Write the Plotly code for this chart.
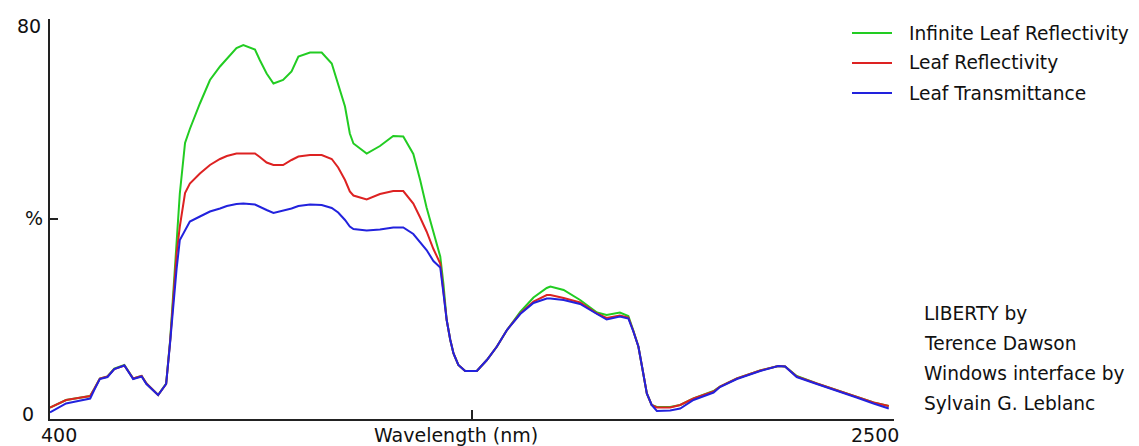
import plotly.graph_objects as go

# ---------------- data ----------------
wavelength = [400, 420, 440, 470, 500, 510, 524, 543, 560, 585, 607, 628, 640, 669, 689, 699,
              707, 715, 723, 736, 748, 773, 798, 823, 840, 864, 881, 910, 922, 939, 956, 980,
              1001, 1018, 1047, 1076, 1101, 1117, 1134, 1146, 1155, 1188, 1221, 1254, 1279,
              1304, 1321, 1337, 1354, 1371, 1379, 1387, 1396, 1404, 1416, 1433, 1462, 1487,
              1512, 1537, 1570, 1603, 1636, 1645, 1678, 1719, 1761, 1785, 1818, 1839, 1851,
              1864, 1873, 1885, 1897, 1910, 1943, 1968, 2001, 2051, 2067, 2109, 2167, 2212,
              2229, 2258, 2308, 2357, 2407, 2449, 2487]

infinite_reflectivity = [2.3, 3.0, 3.8, 4.2, 4.6, 6.0, 8.1, 8.5, 10.1, 10.8, 8.1, 8.6, 7.1, 4.8, 7.1, 15.8,
                         25.1, 34.5, 45.1, 55.2, 58.0, 63.1, 67.8, 70.5, 72.1, 74.2, 74.8, 73.9, 71.8, 69.1, 67.1, 67.8,
                         69.5, 72.5, 73.3, 73.3, 71.1, 67.1, 62.5, 57.1, 55.1, 53.1, 54.6, 56.6, 56.5,
                         53.0, 47.8, 42.3, 37.6, 32.5, 27.0, 19.8, 15.8, 13.1, 10.8, 9.6, 9.6, 11.8,
                         14.5, 17.8, 21.4, 24.3, 26.2, 26.5, 25.8, 23.8, 21.3, 20.8, 21.3, 20.6, 17.8,
                         14.5, 10.5, 5.1, 2.8, 2.4, 2.4, 2.8, 4.1, 5.6, 6.5, 8.1, 9.7, 10.6,
                         10.5, 8.6, 7.1, 5.8, 4.5, 3.3, 2.6]

leaf_reflectivity = [2.3, 3.1, 3.8, 4.2, 4.6, 6.0, 8.1, 8.5, 10.0, 10.7, 8.1, 8.6, 7.1, 4.8, 7.0, 15.6,
                     24.5, 33.0, 38.5, 45.2, 47.1, 49.1, 50.8, 52.0, 52.6, 53.1, 53.1, 53.1, 52.4, 51.3, 50.8, 50.8,
                     51.8, 52.5, 52.8, 52.8, 52.0, 50.3, 47.8, 45.5, 44.7, 43.9, 45.0, 45.6, 45.6,
                     43.1, 40.3, 37.5, 34.0, 31.1, 25.5, 19.8, 15.8, 13.1, 10.8, 9.6, 9.6, 11.8,
                     14.5, 17.8, 21.1, 23.5, 24.8, 24.8, 24.2, 23.3, 21.1, 20.2, 20.7, 20.3, 17.7,
                     14.5, 10.5, 5.1, 2.8, 2.3, 2.3, 2.8, 4.1, 5.5, 6.5, 8.1, 9.7, 10.6,
                     10.5, 8.5, 7.1, 5.8, 4.5, 3.3, 2.6]

leaf_transmittance = [1.3, 2.2, 3.1, 3.6, 4.1, 5.8, 8.0, 8.4, 10.0, 10.7, 8.0, 8.5, 7.0, 4.8, 7.0, 15.4,
                      23.5, 30.0, 35.8, 37.8, 39.5, 40.5, 41.5, 42.1, 42.6, 43.0, 43.1, 42.9, 42.5, 41.8, 41.2, 41.6,
                      42.1, 42.6, 42.9, 42.8, 42.2, 41.3, 39.8, 38.5, 38.0, 37.7, 37.9, 38.3, 38.3,
                      37.0, 35.3, 33.8, 31.6, 30.3, 25.1, 19.8, 15.8, 13.1, 10.8, 9.6, 9.6, 11.8,
                      14.5, 17.8, 21.0, 23.2, 24.1, 24.1, 23.8, 23.0, 21.0, 19.9, 20.5, 20.1, 17.6,
                      14.5, 10.5, 5.1, 2.8, 1.6, 1.7, 2.1, 3.8, 5.3, 6.4, 8.0, 9.6, 10.6,
                      10.5, 8.4, 7.0, 5.7, 4.3, 3.1, 2.1]

series_names = ["Infinite Leaf Reflectivity", "Leaf Reflectivity", "Leaf Transmittance"]
series_colors = ["#22cc22", "#dd2222", "#2222dd"]
series_values = [infinite_reflectivity, leaf_reflectivity, leaf_transmittance]

x_ticks = [400, 1450, 2500]
y_ticks = [0, 40, 80]
credit_lines = ["LIBERTY by", "Terence Dawson", "Windows interface by", "Sylvain G. Leblanc"]

# ---------------- layout geometry (page pixels) ----------------
OFF = 8                      # default body margin of the html page
PAGE_W, PAGE_H = 1139, 446
FIG_W, FIG_H = PAGE_W - OFF, PAGE_H - OFF
L, R, T, B = 50, 894, 19, 419      # plot area in page pixels
PW, PH = R - L, B - T
FONT = "DejaVu Sans"
FS = 19


def px(x):
    return (x - L) / PW


def py(y):
    return (B - y) / PH


fig = go.Figure()
for name, color, vals in zip(series_names, series_colors, series_values):
    fig.add_trace(go.Scatter(x=wavelength, y=vals, mode="lines", name=name,
                             line=dict(color=color, width=2), showlegend=False))

annotations = []
shapes = []


def label(text, x, y, xanchor, size=FS):
    annotations.append(dict(text=text, x=px(x), y=py(y), xref="paper", yref="paper",
                            xanchor=xanchor, yanchor="middle", showarrow=False,
                            borderpad=0, borderwidth=0,
                            font=dict(family=FONT, size=size, color="#111111")))


# axis labels
label("80", 41, 26, "right")
label("%", 43, 218, "right")
label("0", 34, 414, "right")
label("400", 41, 435, "left")
label("Wavelength (nm)", 456, 435, "center")
label("2500", 899, 435, "right")

# manual legend
for i, (name, color) in enumerate(zip(series_names, series_colors)):
    yc = 33 + 30 * i
    shapes.append(dict(type="line", xref="paper", yref="paper",
                       x0=px(852), x1=px(892), y0=py(yc), y1=py(yc),
                       line=dict(color=color, width=2)))
    label(name, 909, yc, "left", size=18.6)

# credits
for i, line in enumerate(credit_lines):
    label(line, 924, 313 + 30 * i, "left", size=18.6)

fig.update_layout(
    width=FIG_W, height=FIG_H,
    margin=dict(l=L - OFF, r=PAGE_W - R, t=T - OFF, b=PAGE_H - B, autoexpand=False),
    paper_bgcolor="white", plot_bgcolor="white",
    annotations=annotations, shapes=shapes,
    showlegend=False,
    xaxis=dict(range=[400, 2500], showgrid=False, zeroline=False, showline=True,
               linecolor="#222222", linewidth=2, ticks="inside", ticklen=9, tickwidth=2,
               tickcolor="#222222", tickvals=x_ticks, showticklabels=False),
    yaxis=dict(range=[0, 80], showgrid=False, zeroline=False, showline=True,
               linecolor="#222222", linewidth=2, ticks="inside", ticklen=8, tickwidth=2,
               tickcolor="#222222", tickvals=y_ticks, showticklabels=False),
)

fig.write_html("out.html")
